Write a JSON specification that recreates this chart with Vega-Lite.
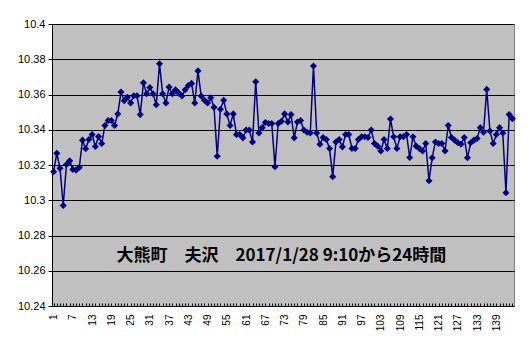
{
  "$schema": "https://vega.github.io/schema/vega-lite/v6.json",
  "width": 462,
  "height": 282,
  "autosize": {"type": "none"},
  "padding": {"left": 52, "top": 24, "right": 15, "bottom": 46},
  "background": "white",
  "config": {
    "view": {"fill": "#c0c0c0", "stroke": "#808080", "strokeWidth": 1},
    "font": "Liberation Sans"
  },
  "datasets": {
    "series": [
      {"k":1,"v":10.3162},{"k":2,"v":10.3266},{"k":3,"v":10.3181},{"k":4,"v":10.297},{"k":5,"v":10.3203},
      {"k":6,"v":10.3224},{"k":7,"v":10.3175},{"k":8,"v":10.3171},{"k":9,"v":10.3186},{"k":10,"v":10.3341},
      {"k":11,"v":10.3292},{"k":12,"v":10.3345},{"k":13,"v":10.3373},{"k":14,"v":10.3305},{"k":15,"v":10.3361},
      {"k":16,"v":10.3322},{"k":17,"v":10.3424},{"k":18,"v":10.3452},{"k":19,"v":10.3452},{"k":20,"v":10.3424},
      {"k":21,"v":10.3489},{"k":22,"v":10.3614},{"k":23,"v":10.3565},{"k":24,"v":10.3584},{"k":25,"v":10.3552},
      {"k":26,"v":10.3593},{"k":27,"v":10.3593},{"k":28,"v":10.3486},{"k":29,"v":10.3666},{"k":30,"v":10.3604},
      {"k":31,"v":10.364},{"k":32,"v":10.3604},{"k":33,"v":10.3542},{"k":34,"v":10.3774},{"k":35,"v":10.3604},
      {"k":36,"v":10.3552},{"k":37,"v":10.3642},{"k":38,"v":10.3604},{"k":39,"v":10.3627},{"k":40,"v":10.3608},
      {"k":41,"v":10.3591},{"k":42,"v":10.3627},{"k":43,"v":10.3651},{"k":44,"v":10.3663},{"k":45,"v":10.3552},
      {"k":46,"v":10.3734},{"k":47,"v":10.3591},{"k":48,"v":10.3567},{"k":49,"v":10.3552},{"k":50,"v":10.3582},
      {"k":51,"v":10.3527},{"k":52,"v":10.325},{"k":53,"v":10.3516},{"k":54,"v":10.3567},{"k":55,"v":10.349},
      {"k":56,"v":10.3424},{"k":57,"v":10.349},{"k":58,"v":10.3373},{"k":59,"v":10.3373},{"k":60,"v":10.3354},
      {"k":61,"v":10.3399},{"k":62,"v":10.3399},{"k":63,"v":10.3331},{"k":64,"v":10.3672},{"k":65,"v":10.3382},
      {"k":66,"v":10.3412},{"k":67,"v":10.3441},{"k":68,"v":10.3435},{"k":69,"v":10.3435},{"k":70,"v":10.319},
      {"k":71,"v":10.3435},{"k":72,"v":10.3448},{"k":73,"v":10.349},{"k":74,"v":10.3444},{"k":75,"v":10.3486},
      {"k":76,"v":10.3354},{"k":77,"v":10.3444},{"k":78,"v":10.3452},{"k":79,"v":10.3399},{"k":80,"v":10.3386},
      {"k":81,"v":10.3382},{"k":82,"v":10.3762},{"k":83,"v":10.3382},{"k":84,"v":10.3318},{"k":85,"v":10.3356},
      {"k":86,"v":10.3345},{"k":87,"v":10.3294},{"k":88,"v":10.3134},{"k":89,"v":10.3331},{"k":90,"v":10.3345},
      {"k":91,"v":10.3303},{"k":92,"v":10.3373},{"k":93,"v":10.3373},{"k":94,"v":10.3294},{"k":95,"v":10.3294},
      {"k":96,"v":10.3345},{"k":97,"v":10.336},{"k":98,"v":10.336},{"k":99,"v":10.3356},{"k":100,"v":10.3399},
      {"k":101,"v":10.3322},{"k":102,"v":10.3307},{"k":103,"v":10.328},{"k":104,"v":10.3345},{"k":105,"v":10.3294},
      {"k":106,"v":10.3461},{"k":107,"v":10.336},{"k":108,"v":10.3294},{"k":109,"v":10.336},{"k":110,"v":10.336},
      {"k":111,"v":10.3373},{"k":112,"v":10.3243},{"k":113,"v":10.336},{"k":114,"v":10.3307},{"k":115,"v":10.3294},
      {"k":116,"v":10.3279},{"k":117,"v":10.3322},{"k":118,"v":10.3111},{"k":119,"v":10.3241},{"k":120,"v":10.3331},
      {"k":121,"v":10.3322},{"k":122,"v":10.3322},{"k":123,"v":10.328},{"k":124,"v":10.3424},{"k":125,"v":10.3356},
      {"k":126,"v":10.3341},{"k":127,"v":10.3326},{"k":128,"v":10.3318},{"k":129,"v":10.3356},{"k":130,"v":10.3241},
      {"k":131,"v":10.3326},{"k":132,"v":10.3341},{"k":133,"v":10.335},{"k":134,"v":10.3412},{"k":135,"v":10.3386},
      {"k":136,"v":10.3629},{"k":137,"v":10.3393},{"k":138,"v":10.3322},{"k":139,"v":10.3373},{"k":140,"v":10.3412},
      {"k":141,"v":10.3382},{"k":142,"v":10.3043},{"k":143,"v":10.3486},{"k":144,"v":10.3463}
    ]
  },
  "encoding": {
    "x": {
      "field": "k", "type": "ordinal",
      "scale": {"type": "point", "padding": 0.5},
      "axis": {
        "title": null, "labelAngle": 270, "labelOverlap": false,
        "labelExpr": "(datum.value - 1) % 6 == 0 ? datum.label : ''",
        "labelFontSize": 10, "labelColor": "black", "labelPadding": 11,
        "tickColor": "black", "tickSize": -3, "domainColor": "black", "grid": false
      }
    },
    "y": {
      "field": "v", "type": "quantitative",
      "scale": {"domain": [10.24, 10.4], "nice": false, "zero": false},
      "axis": {
        "title": null,
        "values": [10.24, 10.26, 10.28, 10.3, 10.32, 10.34, 10.36, 10.38, 10.4],
        "format": ".4~g", "grid": true, "gridColor": "black", "gridWidth": 1, "gridOpacity": 1,
        "domainColor": "black", "tickColor": "black", "tickSize": 4,
        "labelFontSize": 11, "labelColor": "black", "labelPadding": 3
      }
    }
  },
  "layer": [
    {
      "data": {"name": "series"},
      "mark": {"type": "line", "color": "#000080", "strokeWidth": 1.5}
    },
    {
      "data": {"name": "series"},
      "mark": {"type": "point", "shape": "diamond", "filled": true, "size": 50, "color": "#000080", "opacity": 1}
    },
    {
      "data": {"values": [{"k": 72, "v": 10.2684, "label": "大熊町　夫沢　2017/1/28 9:10から24時間"}]},
      "mark": {"type": "text", "font": "Noto Sans CJK JP", "fontSize": 17, "fontWeight": "bold", "align": "center", "baseline": "middle", "color": "black"},
      "encoding": {"text": {"field": "label"}}
    }
  ]
}
